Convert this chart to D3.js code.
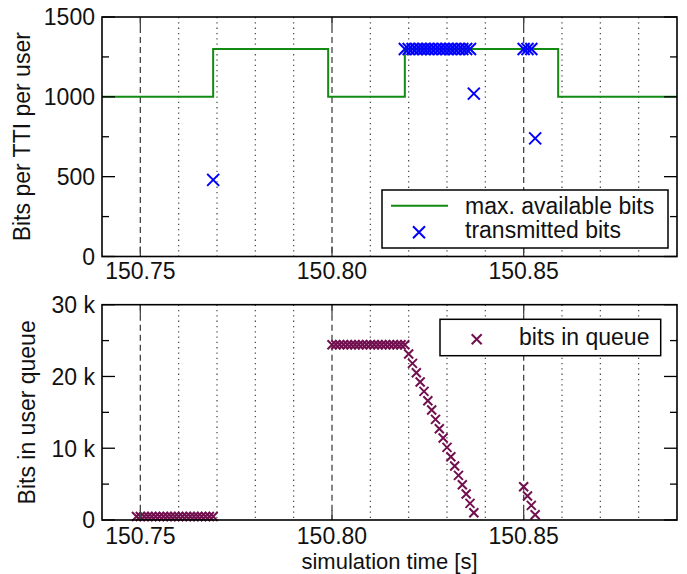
<!DOCTYPE html>
<html><head><meta charset="utf-8">
<script src="https://cdn.jsdelivr.net/npm/d3@7"></script>
<style>
body{margin:0;background:#fff;}
svg{display:block;font-family:"Liberation Sans",Arial,Helvetica,sans-serif;}
</style></head>
<body>
<script>
// ---- data ----
const maxTimes  = [150.74, 150.769, 150.799, 150.819, 150.859, 150.89];
const maxValues = [1000, 1300, 1000, 1300, 1000, 1000];

const txTimes = [150.769,
  150.819,150.820,150.821,150.822,150.823,150.824,150.825,150.826,150.827,
  150.828,150.829,150.830,150.831,150.832,150.833,150.834,150.835,150.836,
  150.837,
  150.850,150.851,150.852,150.853];
const txValues = [480,
  1300,1300,1300,1300,1300,1300,1300,1300,1300,
  1300,1300,1300,1300,1300,1300,1300,1300,1300,
  1020,
  1300,1300,1300,740];

const queueTimes = [
  150.749,150.750,150.751,150.752,150.753,150.754,150.755,150.756,150.757,150.758,
  150.759,150.760,150.761,150.762,150.763,150.764,150.765,150.766,150.767,150.768,150.769,
  150.800,150.801,150.802,150.803,150.804,150.805,150.806,150.807,150.808,150.809,
  150.810,150.811,150.812,150.813,150.814,150.815,150.816,150.817,150.818,150.819,
  150.820,150.821,150.822,150.823,150.824,150.825,150.826,150.827,150.828,
  150.829,150.830,150.831,150.832,150.833,150.834,150.835,150.836,150.837,
  150.850,150.851,150.852,150.853];
const queueValues = [
  480,480,480,480,480,480,480,480,480,480,
  480,480,480,480,480,480,480,480,480,480,480,
  24420,24420,24420,24420,24420,24420,24420,24420,24420,24420,
  24420,24420,24420,24420,24420,24420,24420,24420,24420,24420,
  23120,21820,20520,19220,17920,16620,15320,14020,12720,
  11420,10120,8820,7520,6220,4920,3620,2320,1020,
  4640,3340,2040,740];

const xMajorTicks = [150.75, 150.80, 150.85];
const xMinorTicks = [150.74,150.76,150.77,150.78,150.79,150.81,150.82,150.83,150.84,150.86,150.87,150.88];
const topYTicks = [0, 500, 1000, 1500];
const topYMinor = [250, 750, 1250];
const botYTicks = [0, 10000, 20000, 30000];
const botYLabels = ["0", "10 k", "20 k", "30 k"];
const botYMinor = [5000, 15000, 25000];

// ---- layout ----
const W = 687, H = 574;
const L = 102, R = 677;
const top1 = 17, bot1 = 256.5, top2 = 304.7, bot2 = 520;
const FS = 23;
const GREEN = "#138a13", BLUE = "#0000ff", PURPLE = "#72104f";

const svg = d3.select("body").append("svg").attr("width", W).attr("height", H);

const x = d3.scaleLinear().domain([150.74, 150.89]).range([L, R]);
const y1 = d3.scaleLinear().domain([0, 1500]).range([bot1, top1]);
const y2 = d3.scaleLinear().domain([0, 30000]).range([bot2, top2]);

function cross(s){ return `M${-s},${-s}L${s},${s}M${-s},${s}L${s},${-s}`; }

function panel(yTop, yBot){
  const g = svg.append("g");
  g.selectAll(".gmin").data(xMinorTicks.filter(t => x(t) > L + 2)).join("line")
    .attr("x1", d => x(d)).attr("x2", d => x(d)).attr("y1", yTop).attr("y2", yBot)
    .attr("stroke", "#444").attr("stroke-width", 1.2).attr("stroke-dasharray", "1.3,4");
  g.selectAll(".gmaj").data(xMajorTicks).join("line")
    .attr("x1", d => x(d)).attr("x2", d => x(d)).attr("y1", yTop).attr("y2", yBot)
    .attr("stroke", "#444").attr("stroke-width", 1.3).attr("stroke-dasharray", "6,4");
  return g;
}

function frame(y, yt, ylabels, ymin, yTop, yBot, ylabel, labelX, xlabY){
  const g = svg.append("g");
  yt.forEach(v => {
    g.append("line").attr("x1", L).attr("x2", L + 13).attr("y1", y(v)).attr("y2", y(v)).attr("stroke", "#000").attr("stroke-width", 1.3);
    g.append("line").attr("x1", R - 13).attr("x2", R).attr("y1", y(v)).attr("y2", y(v)).attr("stroke", "#000").attr("stroke-width", 1.3);
  });
  ymin.forEach(v => {
    g.append("line").attr("x1", L).attr("x2", L + 7).attr("y1", y(v)).attr("y2", y(v)).attr("stroke", "#000").attr("stroke-width", 1.3);
    g.append("line").attr("x1", R - 7).attr("x2", R).attr("y1", y(v)).attr("y2", y(v)).attr("stroke", "#000").attr("stroke-width", 1.3);
  });
  xMajorTicks.forEach(t => {
    g.append("line").attr("x1", x(t)).attr("x2", x(t)).attr("y1", yBot).attr("y2", yBot - 10).attr("stroke", "#444").attr("stroke-width", 1.3);
    g.append("line").attr("x1", x(t)).attr("x2", x(t)).attr("y1", yTop).attr("y2", yTop + 10).attr("stroke", "#444").attr("stroke-width", 1.3);
  });
  g.append("rect").attr("x", L).attr("y", yTop).attr("width", R - L).attr("height", yBot - yTop)
    .attr("fill", "none").attr("stroke", "#000").attr("stroke-width", 1.6);
  g.selectAll(".yl").data(yt).join("text")
    .attr("x", 95).attr("y", d => y(d) + 8.3).attr("text-anchor", "end")
    .attr("font-size", FS).attr("fill", "#111")
    .text((d, i) => ylabels[i]);
  g.selectAll(".xl").data(xMajorTicks).join("text")
    .attr("x", d => x(d)).attr("y", xlabY).attr("text-anchor", "middle")
    .attr("font-size", FS).attr("fill", "#111")
    .text(d => d3.format(".2f")(d));
  g.append("text").attr("transform", `translate(${labelX},${(yTop + yBot) / 2}) rotate(-90)`)
    .attr("text-anchor", "middle").attr("font-size", FS).attr("fill", "#111").text(ylabel);
}

// ---- top panel ----
panel(top1, bot1);
const maxData = maxTimes.map((t, i) => ({t, v: maxValues[i]}));
svg.append("path").datum(maxData)
  .attr("d", d3.line().x(d => x(d.t)).y(d => y1(d.v)).curve(d3.curveStepAfter))
  .attr("fill", "none").attr("stroke", GREEN).attr("stroke-width", 2);
svg.append("g").selectAll("path").data(txTimes.map((t, i) => ({t, v: txValues[i]}))).join("path")
  .attr("transform", d => `translate(${x(d.t)},${y1(d.v)})`)
  .attr("d", cross(6)).attr("stroke", BLUE).attr("stroke-width", 2).attr("fill", "none");
frame(y1, topYTicks, topYTicks.map(String), topYMinor, top1, bot1, "Bits per TTI per user", 30, 279);

const lg1 = svg.append("g");
lg1.append("rect").attr("x", 382).attr("y", 190).attr("width", 286).attr("height", 58)
  .attr("fill", "#fff").attr("stroke", "#000").attr("stroke-width", 1.5);
lg1.append("line").attr("x1", 391).attr("x2", 448).attr("y1", 205.7).attr("y2", 205.7).attr("stroke", GREEN).attr("stroke-width", 2);
lg1.append("path").attr("transform", "translate(419,232.3)").attr("d", cross(6)).attr("stroke", BLUE).attr("stroke-width", 2);
lg1.append("text").attr("x", 465).attr("y", 214.3).attr("font-size", FS).attr("fill", "#111").text("max. available bits");
lg1.append("text").attr("x", 465).attr("y", 237.8).attr("font-size", FS).attr("fill", "#111").text("transmitted bits");

// ---- bottom panel ----
panel(top2, bot2);
svg.append("g").selectAll("path").data(queueTimes.map((t, i) => ({t, v: queueValues[i]}))).join("path")
  .attr("transform", d => `translate(${x(d.t)},${y2(d.v)})`)
  .attr("d", cross(4.5)).attr("stroke", PURPLE).attr("stroke-width", 2).attr("fill", "none");
frame(y2, botYTicks, botYLabels, botYMinor, top2, bot2, "Bits in user queue", 35, 544);

const lg2 = svg.append("g");
lg2.append("rect").attr("x", 440).attr("y", 319.3).attr("width", 220.7).attr("height", 36.4)
  .attr("fill", "#fff").attr("stroke", "#000").attr("stroke-width", 1.5);
lg2.append("path").attr("transform", "translate(476.7,339.3)").attr("d", cross(5)).attr("stroke", PURPLE).attr("stroke-width", 2);
lg2.append("text").attr("x", 519).attr("y", 345).attr("font-size", FS).attr("fill", "#111").text("bits in queue");

svg.append("text").attr("x", (L + R) / 2).attr("y", 568.5).attr("text-anchor", "middle")
  .attr("font-size", 22).attr("fill", "#111").text("simulation time [s]");
</script>
</body></html>
